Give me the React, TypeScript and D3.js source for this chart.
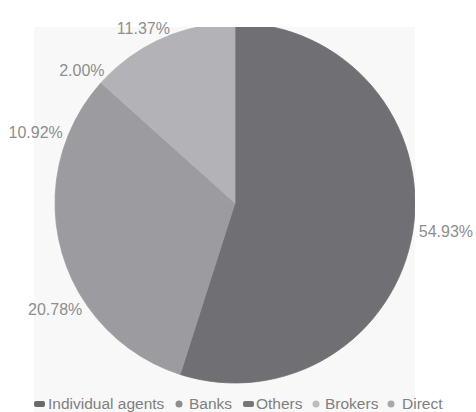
import React from "react";
import * as d3 from "d3";

const categories = ["Individual agents", "Banks", "Others", "Brokers", "Direct"];
const values = [54.93, 20.78, 10.92, 2.0, 11.37];
const sliceColors = ["#707074", "#9c9ca0", "#9c9ca0", "#b3b3b7", "#b3b3b7"];
const legendColors = ["#6a6a6e", "#8e8e92", "#77777b", "#bdbdc1", "#a8a8ac"];

const W = 476;
const H = 412;

export default function App() {
  const cx = 235;
  const cy = 203;
  const r = 180;
  const plot = { x: 34, y: 27, w: 381, h: 385 };

  const pie = d3.pie<number>().sort(null).value((d) => d);
  const arcs = pie(values);
  const arcGen = d3.arc<d3.PieArcDatum<number>>().innerRadius(0).outerRadius(r);
  const labelR = 186;

  const legendX = [34, 175, 243, 312, 387];
  const textX = [48, 189, 256, 325, 402];

  return (
    <svg
      width={W}
      height={H}
      style={{ position: "absolute", left: 0, top: 0 }}
      fontFamily="Liberation Sans, Arial, sans-serif"
    >
      <defs>
        <clipPath id="plotclip">
          <rect x={plot.x} y={plot.y} width={plot.w} height={plot.h} />
        </clipPath>
      </defs>
      <rect x={0} y={0} width={W} height={H} fill="#ffffff" />
      <rect x={plot.x} y={plot.y} width={plot.w} height={plot.h} fill="#f8f8f8" />
      <g clipPath="url(#plotclip)">
        <g transform={`translate(${cx},${cy})`}>
          {arcs.map((a, i) => (
            <path key={i} d={arcGen(a) || ""} fill={sliceColors[i]} stroke={sliceColors[i]} strokeWidth={0.8} />
          ))}
        </g>
      </g>
      {arcs.map((a, i) => {
        const mid = (a.startAngle + a.endAngle) / 2;
        const x = cx + Math.sin(mid) * labelR;
        const y = cy - Math.cos(mid) * labelR;
        const right = Math.sin(mid) >= 0;
        return (
          <text
            key={i}
            x={x}
            y={y}
            fontSize={16}
            fill="#8e8e8e"
            textAnchor={right ? "start" : "end"}
            dominantBaseline="central"
          >
            {values[i].toFixed(2)}%
          </text>
        );
      })}
      {categories.map((c, i) => (
        <g key={c}>
          {i === 0 || i === 2 ? (
            <rect x={legendX[i]} y={401} width={11} height={6} rx={2} fill={legendColors[i]} />
          ) : (
            <circle cx={legendX[i] + 4} cy={404} r={3.5} fill={legendColors[i]} />
          )}
          <text x={textX[i]} y={409} fontSize={15.5} fill="#808080">
            {c}
          </text>
        </g>
      ))}
    </svg>
  );
}
